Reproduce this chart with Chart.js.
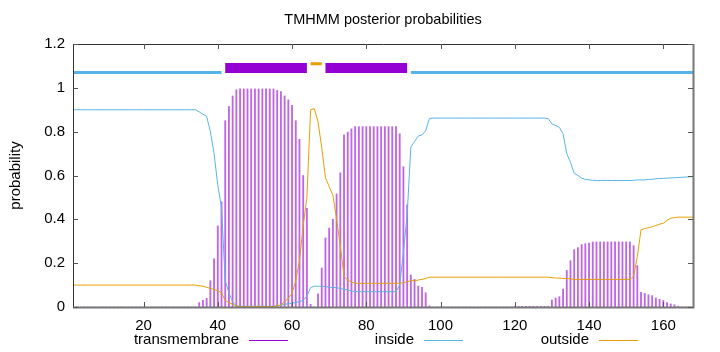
<!DOCTYPE html>
<html>
<head>
<meta charset="utf-8">
<script src="https://cdn.jsdelivr.net/npm/chart.js@4/dist/chart.umd.min.js"></script>
<style>
html,body{margin:0;padding:0;background:#fff;}
#wrap{width:720px;height:352px;}
</style>
</head>
<body>
<div id="wrap"><canvas id="chart" width="720" height="352"></canvas></div>
<script>

// residue numbers 1..168 (category positions only)
const residues = Array.from({length:168}, (_, i) => i + 1)

// posterior probabilities, one value per residue
const transmembrane = [
0,0,0,0,0,0,0,0,0,0, 0,0,0,0,0,0,0,0,0,0, 0,0,0,0,0,0,0,0,0,0, 0,0,0,0,
0.02,0.03,0.04,0.12,0.22,0.37,0.48,0.85,0.915,0.963,0.991,
0.995,0.995,0.995,0.995,0.995,0.995,0.995,0.995,0.995,0.995,
0.988,0.983,0.963,0.945,0.92,0.85,0.765,0.60,0.45,0.012,0,0.06,0.178,0.315,0.36,0.40,0.516,0.612,0.785,0.798,0.813,
0.823,0.823,0.823,0.823,0.823,0.823,0.823,0.823,0.823,0.823,0.823,0.823,
0.79,0.64,0.466,0.146,0.126,0.096,0.09,0.065,0.005,
0,0,0,0,0,0,0,0,0,0, 0,0,0,0,0,0,0,0,0,0, 0,0,
0.003,0.003,0.003,0.003,0.003,0.003,0.003,0.003,0.003,0.003,
0.032,0.041,0.047,0.082,0.167,0.211,0.262,0.271,0.285,0.289,0.292,
0.297,0.297,0.297,0.297,0.297,0.297,0.297,0.297,0.297,0.297,0.297,
0.28,0.189,0.067,0.062,0.056,0.052,0.041,0.035,0.03,0.02,0.014,0.01,0.004,
0,0,0,0
]

const inside = [
0.9,0.9,0.9,0.9,0.9,0.9,0.9,0.9,0.9,0.9, 0.9,0.9,0.9,0.9,0.9,0.9,0.9,0.9,0.9,0.9,
0.9,0.9,0.9,0.9,0.9,0.9,0.9,0.9,0.9,0.9, 0.9,0.9,0.9,0.9,
0.89,0.88,0.87,0.80,0.70,0.555,0.455,0.12,0.065,0.024,0.005,
0.003,0.003,0.003,0.003,0.003,0.003,0.003,0.003,0.003,0.003,
0.005,0.008,0.012,0.015,0.018,0.02,0.025,0.03,0.05,0.088,0.095,0.095,0.095,0.093,0.09,0.09,0.088,0.085,0.08,0.078,0.073,
0.07,0.07,0.07,0.07,0.07,0.07,0.07,0.07,0.07,0.07,0.07,0.07,
0.10,0.25,0.42,0.73,0.755,0.78,0.785,0.805,0.86,
0.862,0.862,0.862,0.862,0.862,0.862,0.862,0.862,0.862,0.862, 0.862,0.862,0.862,0.862,0.862,0.862,0.862,0.862,0.862,0.862, 0.862,0.862,
0.862,0.862,0.862,0.862,0.862,0.862,0.862,0.862,0.862,0.86,
0.835,0.828,0.82,0.79,0.70,0.66,0.61,0.60,0.588,0.582,0.58,
0.578,0.577,0.577,0.577,0.577,0.577,0.577,0.577,0.577,0.577,0.577,
0.578,0.58,0.58,0.58,0.582,0.583,0.585,0.586,0.587,0.588,0.589,0.59,0.591,
0.592,0.593,0.594,0.595
]

const outside = [
0.1,0.1,0.1,0.1,0.1,0.1,0.1,0.1,0.1,0.1, 0.1,0.1,0.1,0.1,0.1,0.1,0.1,0.1,0.1,0.1,
0.1,0.1,0.1,0.1,0.1,0.1,0.1,0.1,0.1,0.1, 0.1,0.1,0.1,0.1,
0.097,0.095,0.09,0.085,0.08,0.075,0.065,0.03,0.02,0.013,0.004,
0.002,0.002,0.002,0.002,0.002,0.002,0.002,0.002,0.002,0.002,
0.006,0.009,0.025,0.04,0.062,0.12,0.21,0.37,0.50,0.90,0.905,0.845,0.727,0.59,0.55,0.51,0.40,0.28,0.14,0.122,0.114,
0.108,0.108,0.108,0.108,0.108,0.108,0.108,0.108,0.108,0.108,0.108,0.108,
0.11,0.11,0.115,0.12,0.12,0.123,0.126,0.13,0.136,
0.136,0.136,0.136,0.136,0.136,0.136,0.136,0.136,0.136,0.136, 0.136,0.136,0.136,0.136,0.136,0.136,0.136,0.136,0.136,0.136, 0.136,0.136,
0.136,0.136,0.136,0.136,0.136,0.136,0.136,0.136,0.136,0.136,
0.134,0.132,0.132,0.13,0.13,0.128,0.126,0.126,0.126,0.126,0.126,
0.126,0.126,0.126,0.126,0.126,0.126,0.126,0.126,0.126,0.126,0.126,
0.14,0.23,0.352,0.358,0.362,0.366,0.372,0.378,0.382,0.395,0.405,0.408,0.41,
0.41,0.41,0.41,0.41
]

// predicted topology drawn above the curves: [from, to] residue ranges
const insideSegments = [[1,41],[92,168]]
const tmSegments = [[42,64],[69,91]]
const outsideSegments = [[65,68]]
const insideLevel = 1.07
const tmLevel = 1.09
const outsideLevel = 1.11

const xTicks = [20,40,60,80,100,120,140,160]
const yTicks = [0,0.2,0.4,0.6,0.8,1,1.2]

const legendItems = ["transmembrane","inside","outside"]

const PURPLE = "#9400d3"
const BLUE = "#56b4e9"
const ORANGE = "#e69f00"
const FONT = '"Liberation Sans", Arial, sans-serif'

function pts(values){
  return residues.map((r,i) => ({x:r, y:values[i]}))
}

function segSets(segs, level, color, width){
  return segs.map(s => ({
    type:"line",
    data:[{x:s[0], y:level},{x:s[1], y:level}],
    borderColor:color,
    borderWidth:width,
    borderCapStyle:"butt",
    pointRadius:0,
    order:0
  }))
}

// gnuplot-like frame, inward ticks, title, y label and legend
const frame = {
  id:"frame",
  afterDraw(c){
    const ctx = c.ctx, a = c.chartArea
    const xs = c.scales.x, ys = c.scales.y
    ctx.save()
    ctx.lineWidth = 1
    ctx.strokeStyle = "#333"
    ctx.beginPath()
    ctx.moveTo(a.left+0.5, a.bottom); ctx.lineTo(a.left+0.5, a.top+0.5); ctx.lineTo(a.right, a.top+0.5)
    ctx.stroke()
    ctx.strokeStyle = "#777"
    ctx.lineWidth = 2
    ctx.beginPath()
    ctx.moveTo(a.left, a.bottom+0.5); ctx.lineTo(a.right+0.5, a.bottom+0.5); ctx.lineTo(a.right+0.5, a.top)
    ctx.stroke()

    ctx.strokeStyle = "#555"
    ctx.lineWidth = 1
    ctx.beginPath()
    xTicks.forEach(v => {
      const px = Math.round(xs.getPixelForValue(v)) + 0.5
      ctx.moveTo(px, a.bottom); ctx.lineTo(px, a.bottom-5)
      ctx.moveTo(px, a.top); ctx.lineTo(px, a.top+5)
    })
    yTicks.forEach(v => {
      const py = Math.round(ys.getPixelForValue(v)) + 0.5
      ctx.moveTo(a.left, py); ctx.lineTo(a.left+5, py)
      ctx.moveTo(a.right, py); ctx.lineTo(a.right-5, py)
    })
    ctx.stroke()

    ctx.fillStyle = "#000"
    ctx.font = "14.5px " + FONT
    ctx.textAlign = "center"
    ctx.textBaseline = "middle"
    ctx.fillText("TMHMM posterior probabilities", (a.left+a.right)/2, 20)

    ctx.font = "15px " + FONT
    ctx.save()
    ctx.translate(16, (a.top+a.bottom)/2)
    ctx.rotate(-Math.PI/2)
    ctx.fillText("probability", 0, 0)
    ctx.restore()

    // legend: text right-aligned, then a sample line
    const colors = [PURPLE, BLUE, ORANGE]
    const textRight = [239, 414, 589]
    ctx.textAlign = "right"
    legendItems.forEach((t,i) => {
      ctx.fillStyle = "#000"
      ctx.fillText(t, textRight[i], 340)
      ctx.strokeStyle = colors[i]
      ctx.beginPath()
      ctx.moveTo(textRight[i]+10, 340.5)
      ctx.lineTo(textRight[i]+49, 340.5)
      ctx.stroke()
    })
    ctx.restore()
  }
}

new Chart(document.getElementById("chart"),{
  type:"line",
  data:{
    datasets:[
      ...segSets(insideSegments, insideLevel, BLUE, 3),
      ...segSets(tmSegments, tmLevel, PURPLE, 10),
      ...segSets(outsideSegments, outsideLevel, ORANGE, 3),
      {
        label:"outside",
        data:pts(outside),
        borderColor:ORANGE,
        borderWidth:1,
        pointRadius:0,
        order:1
      },
      {
        label:"inside",
        data:pts(inside),
        borderColor:BLUE,
        borderWidth:1,
        pointRadius:0,
        order:2
      },
      {
        type:"bar",
        label:"transmembrane",
        data:pts(transmembrane),
        backgroundColor:"rgba(148,0,211,0.6)",
        barThickness:1.2,
        order:3
      }
    ]
  },
  options:{
    responsive:false,
    animation:false,
    events:[],
    layout:{padding:{top:44, right:27, left:0, bottom:0}},
    plugins:{legend:{display:false}, title:{display:false}, tooltip:{enabled:false}},
    scales:{
      x:{
        type:"linear",
        min:1, max:168,
        offset:false,
        grid:{display:false, drawTicks:false},
        border:{display:false},
        afterBuildTicks:s => { s.ticks = xTicks.map(v => ({value:v})) },
        afterFit:s => { s.height = 45 },
        ticks:{padding:10, color:"#000", font:{family:FONT, size:15}, maxRotation:0}
      },
      y:{
        min:0, max:1.2,
        grid:{display:false, drawTicks:false},
        border:{display:false},
        afterBuildTicks:s => { s.ticks = yTicks.map(v => ({value:v})) },
        afterFit:s => { s.width = 73 },
        ticks:{padding:8, color:"#000", font:{family:FONT, size:15},
          callback:v => String(+v.toFixed(1))}
      }
    }
  },
  plugins:[frame]
})

</script>
</body>
</html>
